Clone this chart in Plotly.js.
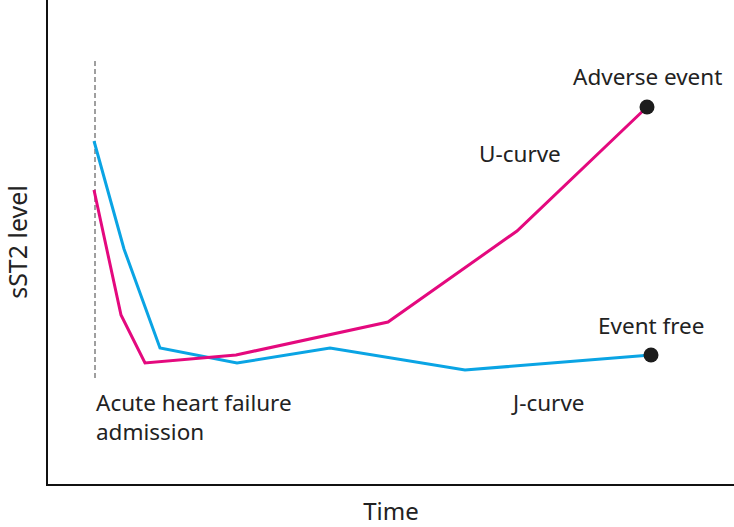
<!DOCTYPE html>
<html>
<head>
<meta charset="utf-8">
<script src="https://cdn.plot.ly/plotly-3.0.1.min.js"></script>
<style>html,body{margin:0;padding:0;background:#fff;}#chart{width:734px;height:527px;}</style>
</head>
<body>
<div id="chart"></div>
<script>
// Time (arbitrary units) and sST2 level (arbitrary units)
const uTime = [46, 73, 97, 188, 340, 469, 599];
const uLevel = [294, 169, 121, 129, 162, 253, 377];
const jTime = [46, 76, 112, 189, 282, 417, 603];
const jLevel = [343, 235, 136, 121, 136, 114, 129];
const admissionTime = [47, 47];
const admissionLevel = [106, 423];
const endTime = [599, 603];
const endLevel = [377, 129];

const font = "Noto Sans, Roboto, sans-serif";
const txt = "#222";

const traces = [
  {x: admissionTime, y: admissionLevel, mode: "lines", line: {color: "#808080", width: 1.5, dash: "5px,3px"}, hoverinfo: "skip"},
  {x: jTime, y: jLevel, mode: "lines", line: {color: "#0aa4e4", width: 3}, name: "J-curve"},
  {x: uTime, y: uLevel, mode: "lines", line: {color: "#e4097e", width: 3}, name: "U-curve"},
  {x: endTime, y: endLevel, mode: "markers", marker: {color: "#1c1c1c", size: 15}, hoverinfo: "skip"}
];

const ann = (x, y, text, extra) => Object.assign({x, y, text, showarrow: false, xref: "x", yref: "y", borderpad: 0, font: {family: font, size: 22.5, color: txt}}, extra || {});

const layout = {
  width: 734, height: 527,
  margin: {l: 48, r: 0, t: 0, b: 43},
  paper_bgcolor: "#fff", plot_bgcolor: "#fff",
  showlegend: false,
  xaxis: {range: [0, 686], showgrid: false, zeroline: false, showticklabels: false, ticks: "",
          showline: true, linecolor: "#111", linewidth: 2,
          title: {text: "Time", font: {family: font, size: 24, color: txt}, standoff: 23}},
  yaxis: {range: [0, 484], showgrid: false, zeroline: false, showticklabels: false, ticks: "",
          showline: true, linecolor: "#111", linewidth: 2,
          title: {text: "sST2 level", font: {family: font, size: 25, color: txt}, standoff: 16}},
  annotations: [
    ann(599, 408, "Adverse event"),
    ann(472, 331, "U-curve"),
    ann(603, 159, "Event free"),
    ann(500, 82, "J-curve"),
    ann(47, 67, "Acute heart failure<br>admission", {xanchor: "left", align: "left"})
  ]
};

Plotly.newPlot("chart", traces, layout, {displayModeBar: false, staticPlot: true});
</script>
</body>
</html>
